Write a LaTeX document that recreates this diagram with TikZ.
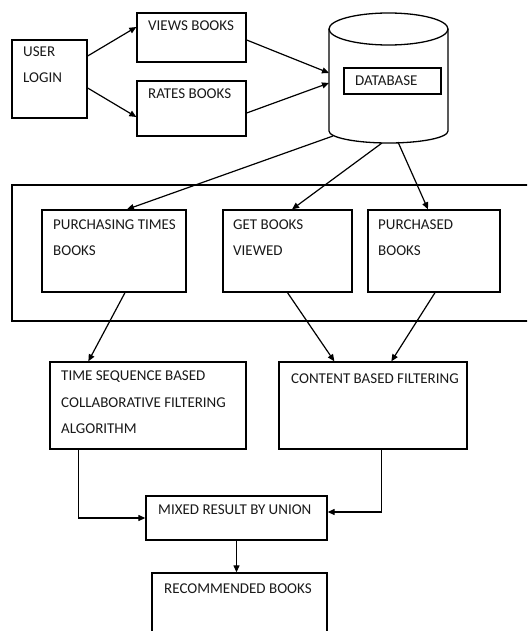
\documentclass[tikz,border=0pt]{standalone}
\usepackage{fontspec}
\setmainfont{Carlito}
\usetikzlibrary{arrows.meta}
\tikzset{
 box/.style={draw, line width=1.3pt, inner sep=0pt, rectangle},
 txt/.style={anchor=base west, inner sep=0pt, font=\fontsize{15}{15}\selectfont, text=black!90},
 arr/.style={line width=1.2pt, -{Triangle[length=7pt,width=6pt]}},
 ln/.style={line width=1.3pt},
}
\newcommand\bx[5]{\node[box, minimum width={(#3-#1)*1pt}, minimum height={(#4-#2)*1pt}] (#5) at ({(#1+#3)/2},{(#2+#4)/2}) {};}
\begin{document}
\begin{tikzpicture}[x=1pt,y=-1pt]
\useasboundingbox (0,0) rectangle (527,631);
\clip (0,0) rectangle (527,631);
% boxes
\bx{12}{40}{87}{118}{user}
\bx{137}{13}{246}{62}{views}
\bx{137}{81}{246}{136}{rates}
\bx{344}{68}{441}{94}{dbin}
\bx{12}{185}{545}{321}{cont}
\bx{42}{210}{186}{292}{pt}
\bx{223}{210}{352}{292}{gb}
\bx{368}{210}{500}{292}{pb}
\bx{50}{362}{246}{449}{ts}
\bx{279}{362}{467}{449}{cb}
\bx{146}{496}{327}{540}{mx}
\bx{152}{573}{327}{660}{rb}
% database cylinder
\draw[ln] (388.5,29) ellipse [x radius=59.5pt, y radius=16pt];
\draw[ln] (329,29) -- (329,131) arc[start angle=180, end angle=360, x radius=59.5pt, y radius=12pt] -- (448,29);
\coordinate (dbin1) at (329,73);
\coordinate (dbin2) at (329,83);
\coordinate (dbo1) at (333,136);
\coordinate (dbo2) at (382,143);
\coordinate (dbo3) at (398,142);
% texts
\node[txt] (t1) at (23,57) {USER};
\node[txt] (t2) at (23,83) {LOGIN};
\node[txt] (t3) at (148,31) {VIEWS BOOKS};
\node[txt] (t4) at (148,99) {RATES BOOKS};
\node[txt] (t5) at (355,86) {DATABASE};
\node[txt] (t6) at (53,229) {PURCHASING TIMES};
\node[txt] (t7) at (53,255) {BOOKS};
\node[txt] (t8) at (233,229) {GET BOOKS};
\node[txt] (t9) at (233,255) {VIEWED};
\node[txt] (t10) at (378,229) {PURCHASED};
\node[txt] (t11) at (378,255) {BOOKS};
\node[txt] (t12) at (61,380) {TIME SEQUENCE BASED};
\node[txt] (t13) at (61,407) {COLLABORATIVE FILTERING};
\node[txt] (t14) at (61,433) {ALGORITHM};
\node[txt] (t15) at (291,383) {CONTENT BASED FILTERING};
\node[txt] (t16) at (158,514) {MIXED RESULT BY UNION};
\node[txt] (t17) at (164,593) {RECOMMENDED BOOKS};
% connectors
\draw[arr] ([yshift=23pt]user.east) -- ([yshift=10.5pt]views.west);
\draw[arr] ([yshift=-9pt]user.east) -- ([yshift=-8.5pt]rates.west);
\draw[arr] ([yshift=-2.5pt]views.east) -- (dbin1);
\draw[arr] ([yshift=-4.5pt]rates.east) -- (dbin2);
\draw[arr] (dbo1) -- ([xshift=13pt]pt.north);
\draw[arr] (dbo2) -- ([xshift=4.5pt]gb.north);
\draw[arr] (dbo3) -- ([xshift=-6pt]pb.north);
\draw[arr] ([xshift=11pt]pt.south) -- ([xshift=39pt]ts.north west);
\draw[arr] (gb.south) -- ([xshift=56pt]cb.north west);
\draw[arr] ([xshift=1pt]pb.south) -- ([xshift=113pt]cb.north west);
\draw[arr] ([xshift=29pt]ts.south west) |- (mx.west);
\draw[arr] ([xshift=103pt]cb.south west) |- ([yshift=6pt]mx.east);
\draw[arr] (mx.south) -- (mx.south |- rb.north);
\end{tikzpicture}
\end{document}
